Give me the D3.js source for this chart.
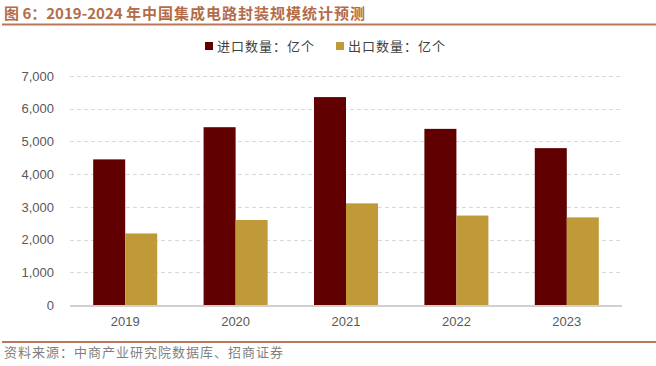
<!DOCTYPE html>
<html>
<head>
<meta charset="utf-8">
<script src="https://cdn.jsdelivr.net/npm/d3@7"></script>
<style>
  body { margin: 0; background: #fff; }
  svg { display: block; }
</style>
</head>
<body>
<svg id="chart" width="656" height="366"></svg>
<script>
// data
var years = ["2019", "2020", "2021", "2022", "2023"];
var importVals = [4451, 5435, 6355, 5384, 4795];
var exportVals = [2187, 2598, 3107, 2734, 2678];
var seriesNames = ["进口数量：亿个", "出口数量：亿个"];
var yTicks = [0, 1000, 2000, 3000, 4000, 5000, 6000, 7000];

var colors = ["#600000", "#c09a38"];
var accent = "#b8785a";

var svg = d3.select("#chart");

var margin = { left: 70, right: 34, top: 76, bottom: 61 };
var width = 656 - margin.left - margin.right;
var height = 366 - margin.top - margin.bottom;

// title + rules
var title = svg.append("text")
    .attr("x", 4)
    .attr("y", 19)
    .attr("fill", "#b46c48")
    .attr("font-family", "'Noto Sans CJK SC', sans-serif")
    .attr("font-weight", "bold")
    .attr("font-size", 15);
title.append("tspan").text("图 6：2019-2024 ");
title.append("tspan").attr("letter-spacing", 1).text("年中国集成电路封装规模统计预测");

svg.append("line")
    .attr("x1", 2).attr("x2", 656)
    .attr("y1", 24.5).attr("y2", 24.5)
    .attr("stroke", accent).attr("stroke-width", 2);

svg.append("line")
    .attr("x1", 2).attr("x2", 656)
    .attr("y1", 342).attr("y2", 342)
    .attr("stroke", accent).attr("stroke-width", 2);

svg.append("text")
    .attr("x", 4)
    .attr("y", 357)
    .attr("fill", "#7f7f7f")
    .attr("font-family", "'Noto Sans CJK SC', serif")
    .attr("font-size", 13)
    .attr("letter-spacing", 1)
    .text("资料来源：中商产业研究院数据库、招商证券");

var g = svg.append("g")
    .attr("transform", "translate(" + margin.left + "," + margin.top + ")");

var x = d3.scaleBand()
    .domain(years)
    .range([0, width])
    .paddingInner(0.42)
    .paddingOuter(0.21);

var xInner = d3.scaleBand()
    .domain([0, 1])
    .range([0, x.bandwidth()]);

var y = d3.scaleLinear()
    .domain([0, 7000])
    .range([height, 0]);

// grid lines
g.selectAll(".grid")
    .data(yTicks.filter(function (d) { return d > 0; }))
    .enter()
    .append("line")
    .attr("class", "grid")
    .attr("x1", 0)
    .attr("x2", width)
    .attr("y1", function (d) { return Math.round(y(d)) + 0.5; })
    .attr("y2", function (d) { return Math.round(y(d)) + 0.5; })
    .attr("stroke", "#d9d9d9")
    .attr("stroke-dasharray", "4,3");

// y axis labels
var yAxis = d3.axisLeft(y)
    .tickValues(yTicks)
    .tickFormat(d3.format(","))
    .tickSize(0)
    .tickPadding(16);

g.append("g")
    .call(yAxis)
    .call(function (a) { a.select(".domain").remove(); })
    .selectAll("text")
    .attr("fill", "#595959")
    .attr("font-family", "Arial, 'Liberation Sans', sans-serif")
    .attr("font-size", 13);

// bars
var rows = years.map(function (yr, i) {
    return { year: yr, vals: [importVals[i], exportVals[i]] };
});

var groups = g.selectAll(".yr")
    .data(rows)
    .enter()
    .append("g")
    .attr("class", "yr")
    .attr("transform", function (d) { return "translate(" + x(d.year) + ",0)"; });

groups.selectAll("rect")
    .data(function (d) { return d.vals; })
    .enter()
    .append("rect")
    .attr("x", function (d, i) { return xInner(i); })
    .attr("y", function (d) { return y(d); })
    .attr("width", xInner.bandwidth())
    .attr("height", function (d) { return height - y(d); })
    .attr("fill", function (d, i) { return colors[i]; });

// baseline
g.append("line")
    .attr("x1", 0).attr("x2", width)
    .attr("y1", height + 1).attr("y2", height + 1)
    .attr("stroke", "#d0d0d0")
    .attr("stroke-width", 2);

// x axis labels
var xAxis = d3.axisBottom(x).tickSize(0).tickPadding(12);
g.append("g")
    .attr("transform", "translate(0," + height + ")")
    .call(xAxis)
    .call(function (a) { a.select(".domain").remove(); })
    .selectAll("text")
    .attr("fill", "#595959")
    .attr("font-family", "Arial, 'Liberation Sans', sans-serif")
    .attr("font-size", 13);

// legend
var legendX = [205, 336];
var legend = svg.selectAll(".legend")
    .data(seriesNames)
    .enter()
    .append("g")
    .attr("class", "legend")
    .attr("transform", function (d, i) { return "translate(" + legendX[i] + ",42)"; });

legend.append("rect")
    .attr("width", 8)
    .attr("height", 8)
    .attr("fill", function (d, i) { return colors[i]; });

legend.append("text")
    .attr("x", 12)
    .attr("y", 8.5)
    .attr("fill", "#404040")
    .attr("font-family", "'Noto Sans CJK SC', serif")
    .attr("font-size", 13)
    .attr("letter-spacing", 1)
    .text(function (d) { return d; });
</script>
</body>
</html>
